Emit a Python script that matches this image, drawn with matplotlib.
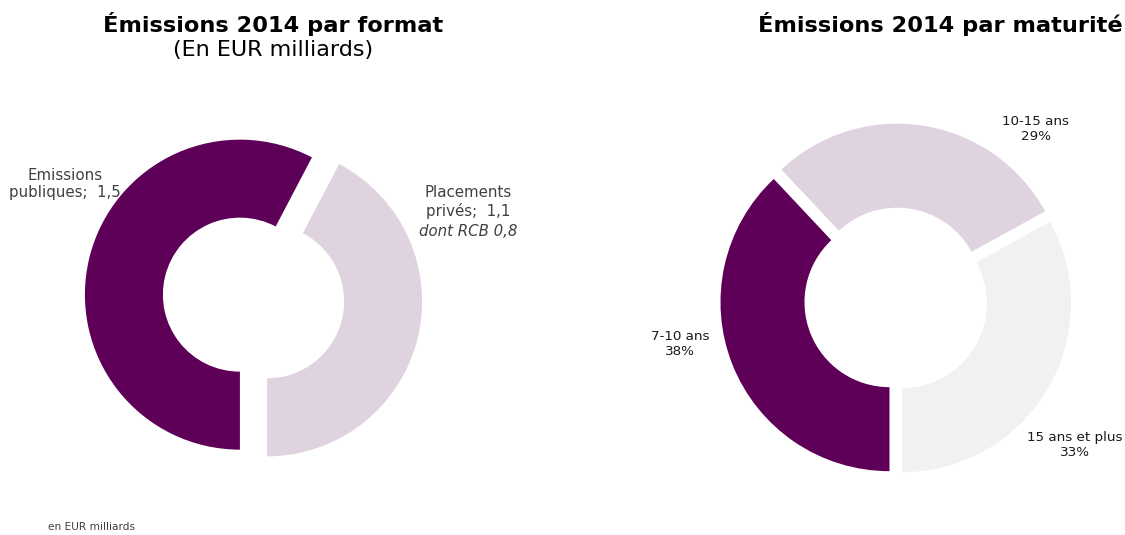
import matplotlib.pyplot as plt

# Data
format_labels = ["Emissions\npubliques;  1,5", "Placements\nprivés;  1,1"]
format_values = [1.5, 1.1]
maturity_labels = ["7-10 ans", "10-15 ans", "15 ans et plus"]
maturity_values = [38, 29, 33]

DARK = "#5E0058"
LIGHT = "#DFD3DF"
GREY = "#F1F1F1"

W, H = 1125, 535


def py(y):
    # pixel row (from top) -> data y
    return H - y


fig = plt.figure(figsize=(W / 100, H / 100), dpi=100)
ax = fig.add_axes([0, 0, 1, 1])

# left donut: by format (explode is in data units here)
ax.pie(format_values, colors=[DARK, LIGHT], startangle=270, counterclock=False,
       center=(253.5, py(298)), radius=155, explode=[14, 14],
       wedgeprops=dict(width=78, linewidth=0))

# right donut: by maturity
ax.pie(maturity_values, colors=[DARK, LIGHT, GREY], startangle=270, counterclock=False,
       center=(896, py(299.6)), radius=169, explode=[7, 7, 7],
       wedgeprops=dict(width=84, linewidth=0))

ax.set_xlim(0, W)
ax.set_ylim(0, H)
ax.set_aspect("equal")
ax.axis("off")

# titles
ax.text(273, py(24), "Émissions 2014 par format", ha="center", va="center",
        fontsize=16.2, fontweight="bold", color="black")
ax.text(273, py(50), "(En EUR milliards)", ha="center", va="center",
        fontsize=16, color="black")
ax.text(940, py(24), "Émissions 2014 par maturité", ha="center", va="center",
        fontsize=16.2, fontweight="bold", color="black")

# left labels
lab_col = "#404040"
ax.text(65, py(184), format_labels[0], ha="center", va="center",
        fontsize=10.8, color=lab_col, linespacing=1.2)
ax.text(468, py(202), format_labels[1], ha="center", va="center",
        fontsize=10.8, color=lab_col, linespacing=1.2)
ax.text(468, py(231), "dont RCB 0,8", ha="center", va="center",
        fontsize=10.8, color=lab_col, style="italic")

# right labels
pos = [(680, 344), (1036, 129), (1075, 445)]
for lab, v, (x, y) in zip(maturity_labels, maturity_values, pos):
    ax.text(x, py(y), f"{lab}\n{v}%", ha="center", va="center",
            fontsize=9.7, color="#1a1a1a", linespacing=1.2)

ax.text(48, py(527), "en EUR milliards", ha="left", va="center",
        fontsize=7.6, color="#404040")

fig.savefig("out.png", dpi=100)
